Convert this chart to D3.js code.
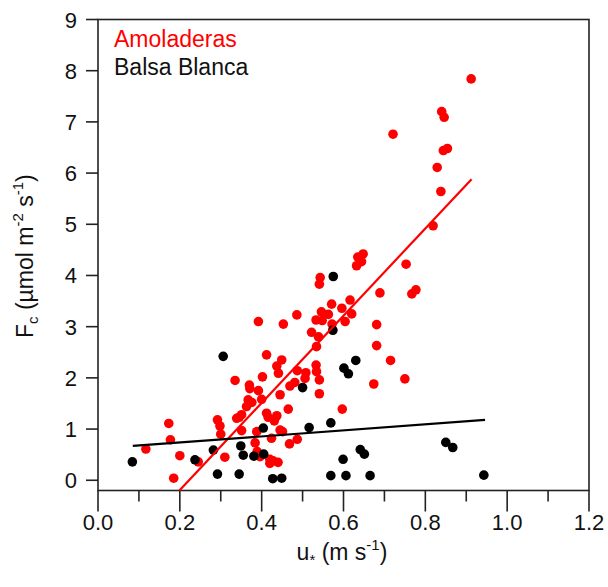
<!DOCTYPE html>
<html>
<head>
  <meta charset="utf-8">
  <title>Fc vs u*</title>
  <script src="https://d3js.org/d3.v7.min.js"></script>
  <style>
    html, body { margin: 0; padding: 0; background: #fff; }
    svg { display: block; font-family: "Liberation Sans", Arial, sans-serif; }
    .tick-label { font-size: 22px; fill: #111; }
    .axis-title { font-size: 23px; fill: #111; }
  </style>
</head>
<body>
  <svg width="608" height="587"></svg>
  <script>
    // Amoladeras (red) points: [u*, Fc]
    const amoladeras = [
      [0.912, 7.84], [0.840, 7.20], [0.846, 7.09], [0.721, 6.76], [0.844, 6.44],
      [0.854, 6.48], [0.829, 6.11], [0.838, 5.64], [0.819, 4.97], [0.635, 4.36],
      [0.648, 4.42], [0.644, 4.27], [0.632, 4.19], [0.753, 4.22], [0.689, 3.66],
      [0.777, 3.72], [0.767, 3.64], [0.616, 3.52], [0.596, 3.36], [0.571, 3.44],
      [0.620, 3.25], [0.604, 3.10], [0.681, 3.04], [0.543, 3.96], [0.541, 3.83],
      [0.392, 3.10], [0.453, 3.05], [0.486, 3.23], [0.546, 3.29], [0.563, 3.24],
      [0.533, 3.13], [0.548, 3.12], [0.572, 3.05], [0.522, 2.89], [0.539, 2.80],
      [0.534, 2.61], [0.681, 2.63], [0.715, 2.34], [0.674, 1.88], [0.750, 1.98],
      [0.597, 1.39], [0.412, 2.45], [0.449, 2.35], [0.437, 2.23], [0.441, 2.09],
      [0.335, 1.95], [0.402, 2.02], [0.370, 1.86], [0.371, 1.79], [0.392, 1.75],
      [0.487, 2.14], [0.508, 2.10], [0.506, 1.99], [0.533, 2.25], [0.534, 2.12],
      [0.541, 1.96], [0.481, 1.91], [0.469, 1.84], [0.541, 1.69], [0.445, 1.67],
      [0.367, 1.57], [0.376, 1.52], [0.400, 1.58], [0.363, 1.44], [0.351, 1.28],
      [0.345, 1.23], [0.465, 1.39], [0.412, 1.31], [0.416, 1.23], [0.437, 1.26],
      [0.431, 1.16], [0.292, 1.18], [0.298, 1.06], [0.339, 1.21], [0.300, 0.90],
      [0.351, 0.97], [0.388, 0.95], [0.445, 0.98], [0.451, 0.95], [0.424, 0.82],
      [0.487, 0.80], [0.468, 0.71], [0.384, 0.73], [0.389, 0.56], [0.396, 0.46],
      [0.420, 0.41], [0.428, 0.38], [0.440, 0.35], [0.420, 0.33], [0.310, 0.45],
      [0.245, 0.36], [0.200, 0.48], [0.173, 1.11], [0.177, 0.79], [0.117, 0.61],
      [0.185, 0.04]
    ];

    // Balsa Blanca (black) points
    const balsaBlanca = [
      [0.084, 0.36], [0.237, 0.40], [0.282, 0.59], [0.292, 0.12], [0.306, 2.42],
      [0.345, 0.12], [0.349, 0.67], [0.355, 0.49], [0.381, 0.47], [0.404, 1.02],
      [0.405, 0.51], [0.427, 0.03], [0.449, 0.04], [0.500, 1.81], [0.516, 1.03],
      [0.569, 1.12], [0.575, 3.98], [0.574, 2.93], [0.569, 0.09], [0.599, 0.41],
      [0.601, 2.19], [0.606, 0.09], [0.612, 2.08], [0.630, 2.34], [0.641, 0.60],
      [0.651, 0.51], [0.665, 0.09], [0.850, 0.74], [0.867, 0.64], [0.943, 0.10]
    ];

    // linear fits: [slope, intercept, xStart, xEnd]
    const amoladerasFit = [8.515, -1.894, 0.199, 0.913];
    const balsaFit = [0.59, 0.62, 0.085, 0.946];

    const xTicks = [0, 0.2, 0.4, 0.6, 0.8, 1.0, 1.2];
    const xMinorTicks = [0.1, 0.3, 0.5, 0.7, 0.9, 1.1];
    const yTicks = [0, 1, 2, 3, 4, 5, 6, 7, 8, 9];

    const svg = d3.select("svg");
    const mLeft = 98, mRight = 589, mTop = 19.5, mBottom = 490.5;

    const x = d3.scaleLinear().domain([0, 1.2]).range([mLeft, mRight]);
    const y = d3.scaleLinear().domain([-0.2, 9]).range([mBottom, mTop]);

    // frame
    svg.append("rect")
      .attr("x", mLeft).attr("y", mTop)
      .attr("width", mRight - mLeft).attr("height", mBottom - mTop)
      .attr("fill", "none").attr("stroke", "#222").attr("stroke-width", 1.6);

    // x axis ticks
    svg.append("g").selectAll("line")
      .data(xTicks).enter().append("line")
      .attr("x1", d => x(d)).attr("x2", d => x(d))
      .attr("y1", mBottom).attr("y2", mBottom + 21)
      .attr("stroke", "#222").attr("stroke-width", 1.6);
    svg.append("g").selectAll("line")
      .data(xMinorTicks).enter().append("line")
      .attr("x1", d => x(d)).attr("x2", d => x(d))
      .attr("y1", mBottom).attr("y2", mBottom + 11)
      .attr("stroke", "#222").attr("stroke-width", 1.6);
    svg.append("g").selectAll("text")
      .data(xTicks).enter().append("text")
      .attr("class", "tick-label")
      .attr("x", d => x(d)).attr("y", 530)
      .attr("text-anchor", "middle")
      .text(d => d.toFixed(1));

    // y axis ticks
    svg.append("g").selectAll("line")
      .data(yTicks).enter().append("line")
      .attr("x1", mLeft - 12).attr("x2", mLeft)
      .attr("y1", d => y(d)).attr("y2", d => y(d))
      .attr("stroke", "#222").attr("stroke-width", 1.6);
    svg.append("g").selectAll("text")
      .data(yTicks).enter().append("text")
      .attr("class", "tick-label")
      .attr("x", 77).attr("y", d => y(d) + 8)
      .attr("text-anchor", "end")
      .text(d => d);

    // points
    svg.append("g").selectAll("circle")
      .data(amoladeras).enter().append("circle")
      .attr("cx", d => x(d[0])).attr("cy", d => y(d[1]))
      .attr("r", 4.8).attr("fill", "#ff0000");
    svg.append("g").selectAll("circle")
      .data(balsaBlanca).enter().append("circle")
      .attr("cx", d => x(d[0])).attr("cy", d => y(d[1]))
      .attr("r", 4.8).attr("fill", "#000");

    // fit lines
    function fitLine(f, color) {
      svg.append("line")
        .attr("x1", x(f[2])).attr("y1", y(f[0] * f[2] + f[1]))
        .attr("x2", x(f[3])).attr("y2", y(f[0] * f[3] + f[1]))
        .attr("stroke", color).attr("stroke-width", 2.2);
    }
    fitLine(amoladerasFit, "#ff0000");
    fitLine(balsaFit, "#000");

    // legend
    svg.append("text").attr("x", 114).attr("y", 47)
      .attr("font-size", 23).attr("fill", "#ff0000").text("Amoladeras");
    svg.append("text").attr("x", 114).attr("y", 75)
      .attr("font-size", 23).attr("fill", "#111").text("Balsa Blanca");

    // x title
    const xt = svg.append("text").attr("class", "axis-title")
      .attr("x", 342).attr("y", 560).attr("text-anchor", "middle");
    xt.append("tspan").text("u");
    xt.append("tspan").attr("font-size", 15).attr("dy", 5).text("*");
    xt.append("tspan").attr("dy", -5).text(" (m s");
    xt.append("tspan").attr("font-size", 15).attr("dy", -10).text("-1");
    xt.append("tspan").attr("dy", 10).text(")");

    // y title
    const yt = svg.append("text").attr("class", "axis-title")
      .attr("transform", "translate(33,338) rotate(-90)")
      .attr("text-anchor", "start");
    yt.append("tspan").text("F");
    yt.append("tspan").attr("font-size", 15).attr("dy", 5).text("c");
    yt.append("tspan").attr("dy", -5).text(" (\u00b5mol m");
    yt.append("tspan").attr("font-size", 15).attr("dy", -10).text("-2");
    yt.append("tspan").attr("dy", 10).text(" s");
    yt.append("tspan").attr("font-size", 15).attr("dy", -10).text("-1");
    yt.append("tspan").attr("dy", 10).text(")");
  </script>
</body>
</html>
